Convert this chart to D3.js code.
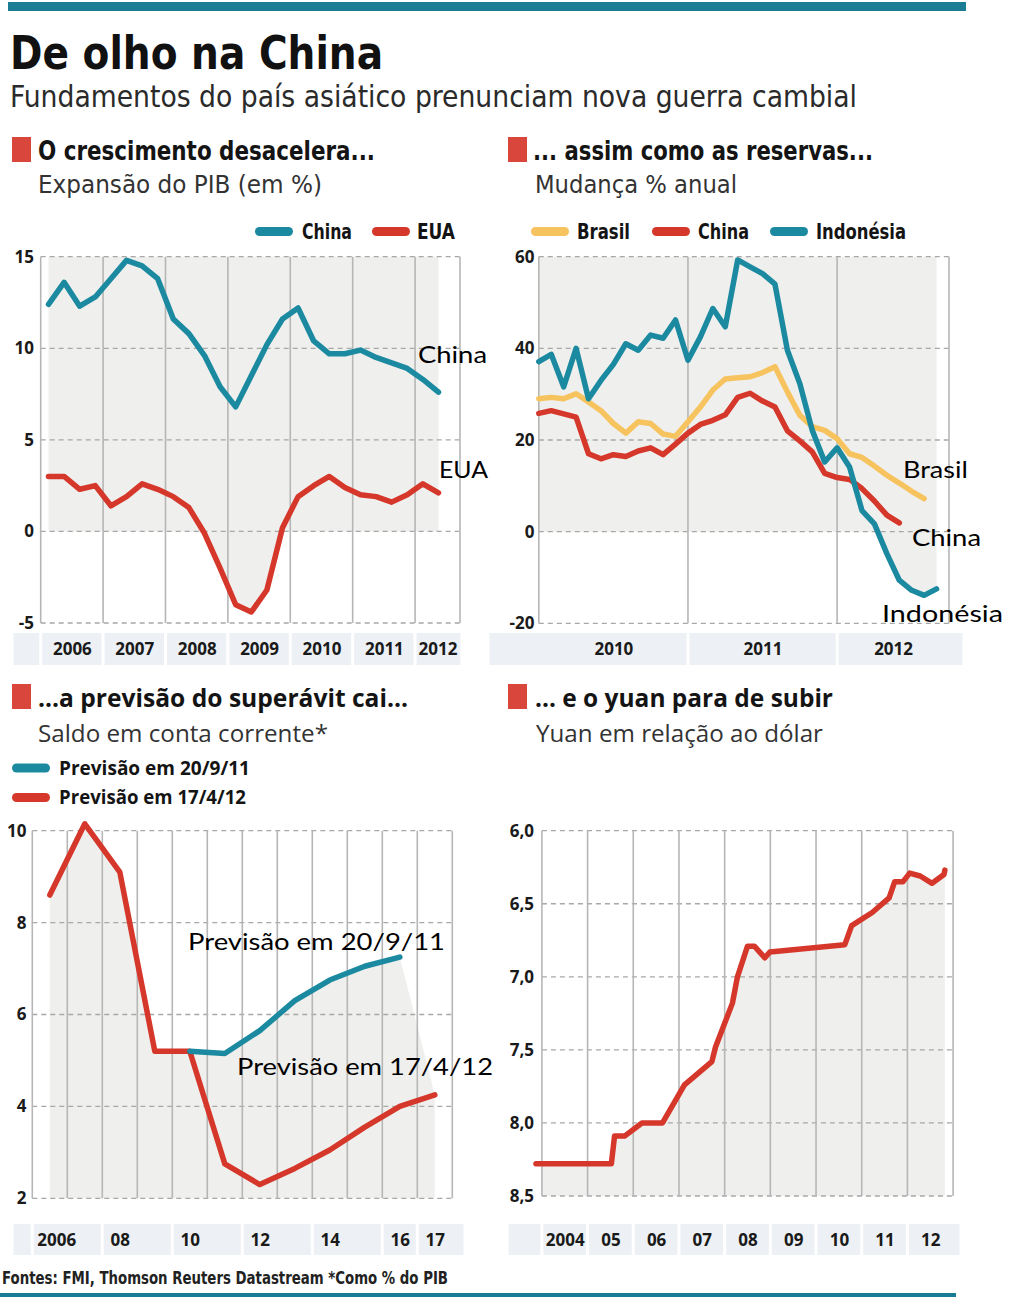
<!DOCTYPE html>
<html><head><meta charset="utf-8">
<script src="https://cdn.jsdelivr.net/npm/d3@7/dist/d3.min.js"></script>
<style>html,body{margin:0;padding:0;background:#fff}svg{display:block}</style>
</head><body>
<svg id="chart" width="1024" height="1298"></svg>
<script>
// ================= DATA =================
// Panel 1 – Expansão do PIB (em %), trimestral 2006T1–2012T2
const gdpYears = [2006, 2007, 2008, 2009, 2010, 2011, 2012];
const gdpChina = [12.4,13.6,12.3,12.8, 13.8,14.8,14.5,13.8, 11.6,10.8,9.6,7.9, 6.8,8.5,10.2,11.6, 12.2,10.4,9.7,9.7, 9.9,9.5,9.2,8.9, 8.3,7.6];
const gdpEua   = [3.0,3.0,2.3,2.5, 1.4,1.9,2.6,2.3, 1.9,1.3,-0.1,-2.0, -4.0,-4.4,-3.2,0.2, 1.9,2.5,3.0,2.4, 2.0,1.9,1.6,2.0, 2.6,2.1];
const gdpTicks = [-5, 0, 5, 10, 15];

// Panel 2 – Reservas, mudança % anual, mensal a partir de jan/2010
const resYears = [2010, 2011, 2012];
const resBrasil = [29.0,29.3,29.0,30.1,28.3,26.4,23.6,21.5,24.0,23.6,21.3,20.8,24.0,27.2,30.9,33.3,33.6,33.8,34.7,36.0,30.5,25.4,22.9,22.1,20.3,17.0,16.2,14.3,12.3,10.6,8.8,7.2];
const resChina = [25.8,26.4,25.7,25.0,17.0,15.9,16.8,16.4,17.6,18.3,16.8,19.1,21.5,23.4,24.3,25.5,29.3,30.2,28.5,27.2,22.0,19.8,17.4,12.7,11.8,11.4,9.4,6.7,3.6,1.9];
const resIndonesia = [37.1,38.7,31.6,40.0,29.0,33.0,36.5,41.0,39.6,42.9,42.2,46.2,37.4,42.5,48.7,44.7,59.3,57.8,56.3,54.0,39.6,32.3,22.1,15.2,18.3,14.1,4.6,1.7,-4.8,-10.6,-12.8,-13.9,-12.5];
const resTicks = [-20, 0, 20, 40, 60];

// Panel 3 – Saldo em conta corrente (% do PIB)
const cabYears = [2006,2007,2008,2009,2010,2011,2012,2013,2014,2015,2016,2017];
const cabApr12 = [8.6,10.15,9.1,5.2,5.2,2.75,2.3,2.65,3.05,3.55,4.0,4.25];
const cabSep11Years = [2010,2011,2012,2013,2014,2015,2016];
const cabSep11 = [5.2,5.15,5.65,6.3,6.75,7.05,7.25];
const cabTickYears = [2006,2008,2010,2012,2014,2016,2017];
const cabTickLabels = ["2006","08","10","12","14","16","17"];
const cabTicks = [2,4,6,8,10];

// Panel 4 – Yuan em relação ao dólar
const yuanDates  = [2003.87,2005.52,2005.59,2005.81,2006.19,2006.64,2007.12,2007.72,2007.80,2008.17,2008.28,2008.50,2008.65,2008.88,2008.99,2010.63,2010.78,2011.23,2011.60,2011.72,2011.90,2012.05,2012.28,2012.54,2012.80,2012.82];
const yuanValues = [8.28,8.28,8.09,8.09,8.00,8.00,7.74,7.58,7.48,7.18,7.00,6.79,6.79,6.87,6.83,6.78,6.65,6.56,6.46,6.35,6.35,6.29,6.31,6.36,6.30,6.27];
const yuanYears = [2004,2005,2006,2007,2008,2009,2010,2011,2012];
const yuanYearLabels = ["2004","05","06","07","08","09","10","11","12"];
const yuanTicks = [6.0,6.5,7.0,7.5,8.0,8.5];

// ================= STYLE =================
const C = {teal:"#1b8aa0", red:"#d6372b", yellow:"#f6c35e", fill:"#efefed", band:"#edf1f5",
           grid:"#b6b6b6", dash:"#a8a8a8", ink:"#141414", sq:"#d9473c", bar:"#1b7d93"};
const COND = '"Liberation Sans Narrow","DejaVu Sans Condensed",sans-serif';
const SANS = '"Open Sans","Noto Sans",sans-serif';
const ANNO = 'Lato,"Noto Sans",sans-serif';
const LW = 5.5;

const svg = d3.select("#chart");

function label(x, y, s, o) {
  const t = svg.append("text").attr("x", x).attr("y", y).text(s)
    .attr("font-family", o.family || COND).attr("font-size", o.size)
    .attr("font-weight", o.weight || 400).attr("fill", o.fill || C.ink)
    .attr("text-anchor", o.anchor || "start");
  if (o.len) t.attr("textLength", o.len).attr("lengthAdjust", "spacingAndGlyphs");
  return t;
}
function pill(x, y, color) {
  svg.append("rect").attr("x", x).attr("y", y - 4.5).attr("width", 38).attr("height", 9)
    .attr("rx", 4.5).attr("fill", color);
}
function redSquare(x, y) {
  svg.append("rect").attr("x", x).attr("y", y).attr("width", 19).attr("height", 25).attr("fill", C.sq);
}
function grid(xs, yScale, ticks, xL, xR) {
  const g = svg.append("g");
  g.selectAll(null).data(ticks).join("line")
    .attr("x1", xL).attr("x2", xR).attr("y1", d => yScale(d)).attr("y2", d => yScale(d))
    .attr("stroke", C.dash).attr("stroke-width", 1.3).attr("stroke-dasharray", "5,4");
  const ys = ticks.map(yScale), yt = d3.min(ys), yb = d3.max(ys);
  g.selectAll(null).data(xs).join("line")
    .attr("x1", d => d).attr("x2", d => d).attr("y1", yt).attr("y2", yb)
    .attr("stroke", C.grid).attr("stroke-width", 1.6);
}
function band(edges, y0, y1) {
  const cells = d3.pairs(edges);
  svg.append("g").selectAll("rect").data(cells).join("rect")
    .attr("x", d => d[0] + 1.5).attr("width", d => d[1] - d[0] - 3)
    .attr("y", y0).attr("height", y1 - y0).attr("fill", C.band);
}
function yAxis(scale, ticks, x, fmt) {
  const g = svg.append("g").attr("transform", `translate(${x},0)`)
    .call(d3.axisLeft(scale).tickValues(ticks).tickSize(0).tickPadding(0).tickFormat(fmt));
  g.select(".domain").remove();
  g.attr("font-size", null).attr("font-family", null);
  g.selectAll("text").attr("font-family", SANS).attr("font-weight", 700)
    .attr("font-size", 17).attr("fill", "#1a1a1a");
  return g;
}
function xAxis(scale, values, labels, y) {
  const g = svg.append("g").attr("transform", `translate(0,${y})`)
    .call(d3.axisBottom(scale).tickValues(values).tickSize(0).tickPadding(0)
      .tickFormat((d, i) => labels[i]));
  g.select(".domain").remove();
  g.attr("font-size", null).attr("font-family", null);
  g.selectAll("text").attr("y", 0).attr("dy", "0.36em").attr("font-family", SANS)
    .attr("font-weight", 700).attr("font-size", 17).attr("fill", "#1a1a1a");
  return g;
}
function drawLine(pts, color) {
  svg.append("path").datum(pts).attr("d", d3.line().x(d => d[0]).y(d => d[1]))
    .attr("fill", "none").attr("stroke", color).attr("stroke-width", LW)
    .attr("stroke-linejoin", "round").attr("stroke-linecap", "round");
}

// ================= HEADER / FOOTER =================
svg.append("rect").attr("x", 8).attr("y", 2).attr("width", 958).attr("height", 9).attr("fill", C.bar);
svg.append("rect").attr("x", 0).attr("y", 1293).attr("width", 956).attr("height", 4).attr("fill", C.bar);

label(10, 69, "De olho na China", {size: 46, weight: 700, len: 373, fill: "#111"});
label(10, 107, "Fundamentos do país asiático prenunciam nova guerra cambial", {size: 30, len: 847, fill: "#2a2a2a"});

redSquare(12, 137);
label(38, 160, "O crescimento desacelera...", {size: 27, weight: 700, len: 337});
label(38, 193, "Expansão do PIB (em %)", {size: 25, len: 284, fill: "#333"});
redSquare(508, 137);
label(533, 160, "... assim como as reservas...", {size: 27, weight: 700, len: 340});
label(535, 193, "Mudança % anual", {size: 25, len: 202, fill: "#333"});
redSquare(12, 684);
label(38, 707, "...a previsão do superávit cai...", {size: 25, weight: 700, family: SANS, len: 370});
label(38, 742, "Saldo em conta corrente*", {size: 24, family: SANS, len: 290, fill: "#333"});
redSquare(508, 684);
label(535, 707, "... e o yuan para de subir", {size: 25, weight: 700, family: SANS, len: 298});
label(536, 742, "Yuan em relação ao dólar", {size: 24, family: SANS, len: 287, fill: "#333"});

label(2, 1284, "Fontes: FMI, Thomson Reuters Datastream *Como % do PIB", {size: 17, weight: 700, len: 446, fill: "#222"});

// ================= PANEL 1 =================
{
  const x = d3.scaleLinear().domain([2006, 2012.72]).range([40.7, 460]);
  const y = d3.scaleLinear().domain([-5, 15]).range([623, 256.7]);
  const qx = i => x(gdpYears[0] + (i + 0.5) / 4);
  const dEnd = x.domain()[1];

  band([12, ...gdpYears.map(x), 462], 633, 665);
  svg.append("path").datum(gdpEua)
    .attr("d", d3.area().x((d, i) => qx(i)).y0(y(15)).y1(d => y(Math.min(0, d))))
    .attr("fill", C.fill);
  grid([...gdpYears.map(x), x(dEnd)], y, gdpTicks, x(2006), x(dEnd));
  yAxis(y, gdpTicks, 34, d => String(d));
  const mids = gdpYears.map(yr => (yr + Math.min(yr + 1, dEnd)) / 2);
  xAxis(x, mids, gdpYears.map(String), 649);

  drawLine(gdpEua.map((v, i) => [qx(i), y(v)]), C.red);
  drawLine(gdpChina.map((v, i) => [qx(i), y(v)]), C.teal);

  pill(255, 231.5, C.teal);
  label(302, 239, "China", {size: 21, weight: 700, len: 50});
  pill(372, 231.5, C.red);
  label(417, 239, "EUA", {size: 21, weight: 700, len: 38});

  label(418, 363, "China", {size: 23, family: ANNO, len: 69, fill: "#000"});
  label(439, 478, "EUA", {size: 23, family: ANNO, len: 49, fill: "#000"});
}

// ================= PANEL 2 =================
{
  const x = d3.scaleLinear().domain([0, 33]).range([538.8, 949]);
  const y = d3.scaleLinear().domain([-20, 60]).range([623.3, 256.7]);
  const yearStart = resYears.map((yr, i) => i * 12);

  band([488, x(12), x(24), 964], 633, 665);
  svg.append("path").datum(resIndonesia)
    .attr("d", d3.area().x((d, i) => x(i)).y0(y(60)).y1(d => y(Math.min(0, d))))
    .attr("fill", C.fill);
  grid([...yearStart.map(x), x(33)], y, resTicks, x(0), x(33));
  yAxis(y, resTicks, 534.5, d => String(d));
  const mids = yearStart.map(s => (s + Math.min(s + 12, 33)) / 2);
  xAxis(x, mids, resYears.map(String), 649);

  drawLine(resBrasil.map((v, i) => [x(i), y(v)]), C.yellow);
  drawLine(resChina.map((v, i) => [x(i), y(v)]), C.red);
  drawLine(resIndonesia.map((v, i) => [x(i), y(v)]), C.teal);

  pill(531, 231.5, C.yellow);
  label(577, 239, "Brasil", {size: 21, weight: 700, len: 53});
  pill(652, 231.5, C.red);
  label(698, 239, "China", {size: 21, weight: 700, len: 51});
  pill(770, 231.5, C.teal);
  label(816, 239, "Indonésia", {size: 21, weight: 700, len: 90});

  label(903, 478, "Brasil", {size: 23, family: ANNO, len: 65, fill: "#000"});
  label(912, 546, "China", {size: 23, family: ANNO, len: 69, fill: "#000"});
  label(882, 622, "Indonésia", {size: 23, family: ANNO, len: 121, fill: "#000"});
}

// ================= PANEL 3 =================
{
  const x = d3.scaleLinear().domain([2005.5, 2017.5]).range([32.3, 452.3]);
  const y = d3.scaleLinear().domain([2, 10]).range([1198.3, 830.7]);
  const upper = cabYears.map((yr, i) => {
    const j = cabSep11Years.indexOf(yr);
    return j < 0 ? cabApr12[i] : Math.max(cabApr12[i], cabSep11[j]);
  });

  band([12, ...cabTickYears.map(t => x(t - 0.5)), 465], 1224, 1255);
  svg.append("path").datum(upper)
    .attr("d", d3.area().x((d, i) => x(cabYears[i])).y0(y(2)).y1(d => y(d)))
    .attr("fill", C.fill);
  const bounds = d3.range(2005.5, 2018, 1);
  grid(bounds.map(x), y, cabTicks, x(2005.5), x(2017.5));
  yAxis(y, cabTicks, 26.5, d => String(d));
  const ax = xAxis(x, cabTickYears, cabTickLabels, 1240);
  ax.selectAll("text").filter((d, i) => i === 0).attr("text-anchor", "start").attr("x", -13);

  drawLine(cabApr12.map((v, i) => [x(cabYears[i]), y(v)]), C.red);
  drawLine(cabSep11.map((v, i) => [x(cabSep11Years[i]), y(v)]), C.teal);

  pill(12, 768, C.teal);
  label(59, 775, "Previsão em 20/9/11", {size: 19, weight: 700, family: SANS, len: 191});
  pill(12, 797.5, C.red);
  label(59, 804, "Previsão em 17/4/12", {size: 19, weight: 700, family: SANS, len: 187});

  label(188, 950, "Previsão em 20/9/11", {size: 23, family: ANNO, len: 257, fill: "#000"});
  label(237, 1075, "Previsão em 17/4/12", {size: 23, family: ANNO, len: 256, fill: "#000"});
}

// ================= PANEL 4 =================
{
  const x = d3.scaleLinear().domain([2004, 2013]).range([541.9, 953.1]);
  const y = d3.scaleLinear().domain([6, 8.5]).range([830.7, 1196]);
  const pts = yuanDates.map((d, i) => [x(d), y(yuanValues[i])]);

  band([507, ...yuanYears.map(x), 961], 1224, 1255);
  svg.append("clipPath").attr("id", "clip4").append("rect")
    .attr("x", x(2004)).attr("y", y(6)).attr("width", x(2013) - x(2004)).attr("height", y(8.5) - y(6));
  svg.append("path").datum(pts).attr("clip-path", "url(#clip4)")
    .attr("d", d3.area().x(d => d[0]).y0(y(8.5)).y1(d => d[1]))
    .attr("fill", C.fill);
  grid([...yuanYears, 2013].map(x), y, yuanTicks, x(2004), x(2013));
  yAxis(y, yuanTicks, 534, d => d.toFixed(1).replace(".", ","));
  xAxis(x, yuanYears.map(v => v + 0.5), yuanYearLabels, 1240);

  drawLine(pts, C.red);
}
</script>
</body></html>
